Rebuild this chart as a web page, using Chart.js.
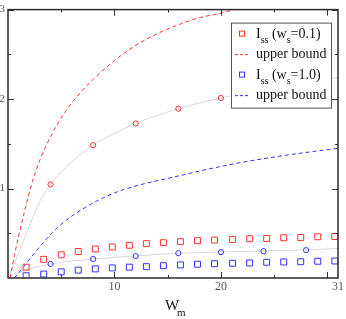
<!DOCTYPE html>
<html>
<head>
<meta charset="utf-8">
<script src="https://cdn.jsdelivr.net/npm/chart.js@4/dist/chart.umd.min.js"></script>
<style>
  html, body { margin: 0; padding: 0; background: #fff; }
  #wrap { width: 346px; height: 319px; }
</style>
</head>
<body>
<div id="wrap"><canvas id="c1"></canvas></div>
<script>
// w_m positions of the square markers
const sqX = [1.7, 3.35, 5.0, 6.6, 8.2, 9.8, 11.4, 13.0, 14.6, 16.2, 17.8, 19.4, 21.1, 22.7, 24.3, 25.9, 27.5, 29.1, 30.7];
const issRed = [0.121, 0.209, 0.259, 0.296, 0.325, 0.347, 0.366, 0.384, 0.395, 0.406, 0.417, 0.424, 0.431, 0.439, 0.442, 0.450, 0.453, 0.461, 0.464];
const issBlue = [0.025, 0.044, 0.069, 0.088, 0.102, 0.113, 0.121, 0.127, 0.138, 0.146, 0.154, 0.160, 0.165, 0.168, 0.176, 0.179, 0.182, 0.187, 0.190];

// circles on the grey curves
const circX = [4, 8, 12, 16, 20, 24, 28];
const circRed = [1.046, 1.485, 1.727, 1.892, 2.012];
const circBlue = [0.157, 0.212, 0.245, 0.278, 0.289, 0.300, 0.311];

// grey guide curves
const greyX = [0, 0.8, 1.8, 3, 4, 6, 8, 12, 16, 20, 24, 28, 31];
const greyHigh = [0, 0.22, 0.52, 0.86, 1.046, 1.30, 1.485, 1.727, 1.892, 2.012, 2.11, 2.19, 2.24];
const greyLowX = [0, 0.5, 1, 2, 4, 8, 12, 16, 20, 24, 28, 31];
const greyLow = [0, 0.03, 0.06, 0.10, 0.157, 0.212, 0.247, 0.275, 0.291, 0.303, 0.314, 0.33];

// upper bounds
const ubRedX = [0.2, 0.6, 1, 1.5, 2.3, 3, 4, 5, 6, 8, 10, 12, 14, 16, 18, 20, 21.2, 25, 31];
const ubRed = [0, 0.25, 0.47, 0.72, 1.08, 1.32, 1.58, 1.79, 1.96, 2.22, 2.43, 2.6, 2.73, 2.83, 2.91, 2.96, 3.0, 3.1, 3.25];
const ubBlueX = [0.6, 1.5, 2.5, 3.5, 5, 7, 10.2, 16, 21.4, 26, 31];
const ubBlue = [0, 0.13, 0.28, 0.42, 0.6, 0.77, 0.96, 1.14, 1.28, 1.37, 1.45];

const xMajor = [10, 20, 30];
const xMinor = [5, 15, 25];
const yMajor = [1, 2, 3];
const yMinor = [0.5, 1.5, 2.5];

const RED = 'rgb(255,50,50)';
const BLUE = 'rgb(50,50,255)';
const GREY = '#d8d8d8';

const pts = (xs, ys) => ys.map((y, i) => ({x: xs[i], y: y}));

const legendRows = [
    {kind: 'sq', color: RED, main: 'I', sub: 'ss', rest: ' (w', sub2: 's', tail: '=0.1)'},
    {kind: 'dash', color: RED, main: 'upper bound'},
    {kind: 'sq', color: BLUE, main: 'I', sub: 'ss', rest: ' (w', sub2: 's', tail: '=1.0)'},
    {kind: 'dash', color: BLUE, main: 'upper bound'}
];

const SERIF = '"Liberation Serif", "Times New Roman", serif';

// inward ticks + frame
const framePlugin = {
    id: 'frame',
    afterDatasetsDraw(chart) {
        const ctx = chart.ctx, a = chart.chartArea;
        const xs = chart.scales.x, ys = chart.scales.y;
        ctx.save();
        ctx.strokeStyle = '#333';
        ctx.lineWidth = 1;
        const tick = (vals, len) => {
            vals.forEach(v => {
                const px = Math.round(xs.getPixelForValue(v)) + 0.5;
                ctx.beginPath();
                ctx.moveTo(px, a.bottom); ctx.lineTo(px, a.bottom - len);
                ctx.moveTo(px, a.top); ctx.lineTo(px, a.top + len);
                ctx.stroke();
            });
        };
        const tickY = (vals, len) => {
            vals.forEach(v => {
                const py = Math.round(ys.getPixelForValue(v)) + 0.5;
                ctx.beginPath();
                ctx.moveTo(a.left, py); ctx.lineTo(a.left + len, py);
                ctx.moveTo(a.right, py); ctx.lineTo(a.right - len, py);
                ctx.stroke();
            });
        };
        tick(xMajor, 6); tick(xMinor, 3);
        tickY(yMajor, 6); tickY(yMinor, 3);
        ctx.lineWidth = 1.5;
        ctx.strokeStyle = '#2a2a2a';
        ctx.strokeRect(a.left, a.top, a.right - a.left, a.bottom - a.top);
        ctx.restore();
    },
    afterDraw(chart) {
        const ctx = chart.ctx, a = chart.chartArea;
        ctx.save();
        // axis title W_m
        ctx.fillStyle = '#111';
        ctx.textBaseline = 'alphabetic';
        ctx.font = '15px ' + SERIF;
        const cx = (a.left + a.right) / 2;
        ctx.fillText('W', cx - 8, 310);
        ctx.font = '11px ' + SERIF;
        ctx.fillText('m', cx + 4, 316);

        // legend box
        const bw = 100, bh = 85;
        const bx = a.right - 7 - bw, by = a.top + 13;
        ctx.fillStyle = '#fff';
        ctx.fillRect(bx, by, bw, bh);
        ctx.strokeStyle = '#555';
        ctx.lineWidth = 1;
        ctx.strokeRect(bx + 0.5, by + 0.5, bw, bh);
        legendRows.forEach((r, i) => {
            const base = by + 15 + i * 20.5;
            const my = base - 4;
            ctx.strokeStyle = r.color;
            ctx.lineWidth = 1;
            if (r.kind === 'sq') {
                ctx.strokeRect(bx + 8.5, my - 2.5, 5, 5);
            } else {
                ctx.setLineDash([3, 2]);
                ctx.beginPath();
                ctx.moveTo(bx + 4, my + 0.5); ctx.lineTo(bx + 19, my + 0.5);
                ctx.stroke();
                ctx.setLineDash([]);
            }
            ctx.fillStyle = '#111';
            let tx = bx + 25;
            ctx.font = '14px ' + SERIF;
            ctx.fillText(r.main, tx, base);
            tx += ctx.measureText(r.main).width;
            if (r.sub) {
                ctx.font = '10px ' + SERIF;
                ctx.fillText(r.sub, tx, base + 5);
                tx += ctx.measureText(r.sub).width;
                ctx.font = '14px ' + SERIF;
                ctx.fillText(r.rest, tx, base);
                tx += ctx.measureText(r.rest).width;
                ctx.font = '10px ' + SERIF;
                ctx.fillText(r.sub2, tx, base + 5);
                tx += ctx.measureText(r.sub2).width;
                ctx.font = '14px ' + SERIF;
                ctx.fillText(r.tail, tx, base);
            }
        });
        ctx.restore();
    }
};

const lineSet = (data, color, dash, order) => ({
    data: data, borderColor: color, borderWidth: 1, borderDash: dash,
    pointRadius: 0, fill: false, showLine: true,
    cubicInterpolationMode: 'monotone', order: order
});
const markSet = (data, color, style, r, order) => ({
    data: data, borderColor: color, backgroundColor: 'rgba(0,0,0,0)',
    borderWidth: 1, pointStyle: style, pointRadius: r, showLine: false, order: order
});

const data = {
    datasets: [
        lineSet(pts(greyX, greyHigh), GREY, [], 10),
        lineSet(pts(greyLowX, greyLow), GREY, [], 10),
        lineSet(pts(ubRedX, ubRed), RED, [4, 3], 5),
        lineSet(pts(ubBlueX, ubBlue), BLUE, [4, 3], 5),
        markSet(pts(circX, circRed), RED, 'circle', 2.6, 1),
        markSet(pts(circX, circBlue), BLUE, 'circle', 2.6, 1),
        markSet(pts(sqX, issRed), RED, 'rect', 4.2, 1),
        markSet(pts(sqX, issBlue), BLUE, 'rect', 4.2, 1)
    ]
};

const tickFont = {family: SERIF, size: 12};

const options = {
    responsive: true,
    maintainAspectRatio: false,
    animation: false,
    layout: {padding: {top: 5, right: 1.5, left: 0, bottom: 0}},
    plugins: {legend: {display: false}, tooltip: {enabled: false}},
    scales: {
        x: {
            type: 'linear', min: 0, max: 31,
            grid: {display: false, drawTicks: false},
            border: {display: false},
            afterFit: (s) => { s.height = 41; },
            ticks: {
                stepSize: 10, padding: 2, color: '#555', font: tickFont,
                callback: (v) => (v === 0 ? '' : v)
            }
        },
        y: {
            type: 'linear', min: 0, max: 3,
            grid: {display: false, drawTicks: false},
            border: {display: false},
            afterFit: (s) => { s.width = 8; },
            ticks: {
                stepSize: 1, padding: 3, color: '#555', font: {family: SERIF, size: 11},
                callback: (v) => (v === 0 ? '' : v)
            }
        }
    }
};

const c1 = new Chart(document.getElementById('c1'), {
    type: 'scatter',
    data: data,
    options: options,
    plugins: [framePlugin]
});
</script>
</body>
</html>
